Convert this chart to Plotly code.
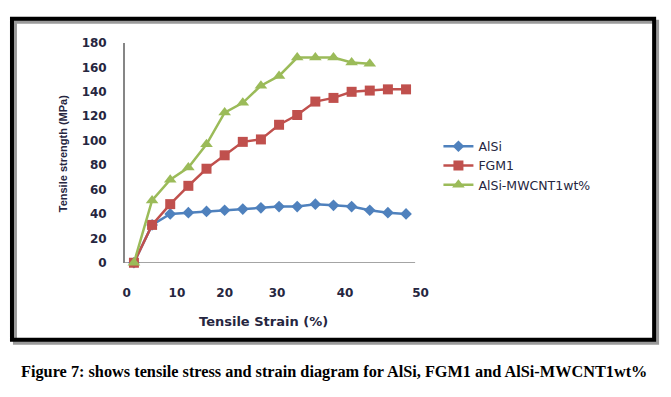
import plotly.graph_objects as go

# The page places the figure 8 px in from the top-left corner (default body margin),
# so the figure is sized to fill the remaining window.
OFF = 8
W, H = 671 - OFF, 397 - OFF

# ---- data ----
point_index = list(range(16))          # evenly spaced measurement points
alsi = [0, 31, 40, 41, 42, 43, 44, 45, 46, 46, 48, 47, 46, 43, 41, 40]
fgm1 = [0, 31, 48, 63, 77, 88, 99, 101, 113, 121, 132, 135, 140, 141, 142, 142]
mwcnt = [0, 51, 68, 78, 97, 123, 131, 145, 153, 168, 168, 168, 164, 163]
x_tick_labels = ["0", "10", "20", "30", "40", "50"]
y_ticks = [0, 20, 40, 60, 80, 100, 120, 140, 160, 180]


def px(x):
    return (x - OFF) / W


def py(y):
    return 1 - (y - OFF) / H


fig = go.Figure()
fig.add_trace(go.Scatter(x=point_index[:len(alsi)], y=alsi, name="AlSi", mode="lines+markers",
                         line=dict(color="#4F81BD", width=2.5),
                         marker=dict(symbol="diamond", size=9, color="#4F81BD"),
                         cliponaxis=False))
fig.add_trace(go.Scatter(x=point_index[:len(fgm1)], y=fgm1, name="FGM1", mode="lines+markers",
                         line=dict(color="#C0504D", width=2.5),
                         marker=dict(symbol="square", size=10, color="#C0504D"),
                         cliponaxis=False))
fig.add_trace(go.Scatter(x=point_index[:len(mwcnt)], y=mwcnt, name="AlSi-MWCNT1wt%", mode="lines+markers",
                         line=dict(color="#9BBB59", width=2.5),
                         marker=dict(symbol="triangle-up", size=11, color="#9BBB59"),
                         cliponaxis=False))

tick_font = dict(family="DejaVu Sans", size=12, color="#262640", weight="bold")

fig.update_layout(
    width=W, height=H, autosize=False,
    margin=dict(l=0, r=0, t=0, b=0),
    paper_bgcolor="white", plot_bgcolor="white",
    showlegend=True,
    legend=dict(x=px(441), xanchor="left", y=py(129), yanchor="top",
                font=dict(family="DejaVu Sans", size=12.5, color="#262640"),
                bgcolor="rgba(0,0,0,0)", borderwidth=0),
    xaxis=dict(domain=[px(124.1), px(426.6)], range=[-0.5, 16.0],
               showline=False, showgrid=False, zeroline=False,
               tickmode="array",
               tickvals=[-0.40, 2.37, 5.0, 7.89, 11.64, 15.8],
               ticktext=x_tick_labels, ticks="",
               ticklabelstandoff=21, tickfont=tick_font),
    yaxis=dict(domain=[py(265), py(37)], range=[0, 180],
               tickmode="array", tickvals=y_ticks,
               showline=True, linecolor="#868686", linewidth=1.5,
               showgrid=False, zeroline=False, ticks="",
               ticklabelstandoff=14, tickfont=tick_font),
    shapes=[
        # x axis line
        dict(type="line", xref="x", yref="y", x0=-0.5, x1=15.5, y0=0, y1=0,
             line=dict(color="#868686", width=1.5), layer="below"),
        # frame shadow
        dict(type="rect", xref="paper", yref="paper",
             x0=px(13), x1=px(662), y0=py(15), y1=py(348),
             line=dict(color="#9a9a9a", width=4), layer="below"),
        # black frame
        dict(type="rect", xref="paper", yref="paper",
             x0=px(10), x1=px(659), y0=py(12), y1=py(345),
             line=dict(color="black", width=4), layer="above"),
    ],
    annotations=[
        dict(text="Tensile strength (MPa)", textangle=-90, showarrow=False,
             xref="paper", yref="paper", x=px(61), y=py(152),
             xanchor="center", yanchor="middle",
             font=dict(family="Liberation Sans", size=11, color="#262640", weight="bold")),
        dict(text="Tensile Strain (%)", showarrow=False,
             xref="paper", yref="paper", x=px(264), y=py(326),
             xanchor="center", yanchor="middle",
             font=dict(family="DejaVu Sans", size=13, color="#262640", weight="bold")),
        dict(text="Figure 7: shows tensile stress and strain diagram for AlSi, FGM1 and AlSi-MWCNT1wt%",
             showarrow=False, xref="paper", yref="paper", x=px(335), y=py(378),
             xanchor="center", yanchor="middle",
             font=dict(family="Liberation Serif", size=16.3, color="black", weight="bold")),
    ],
)

fig.write_html("out.html")
